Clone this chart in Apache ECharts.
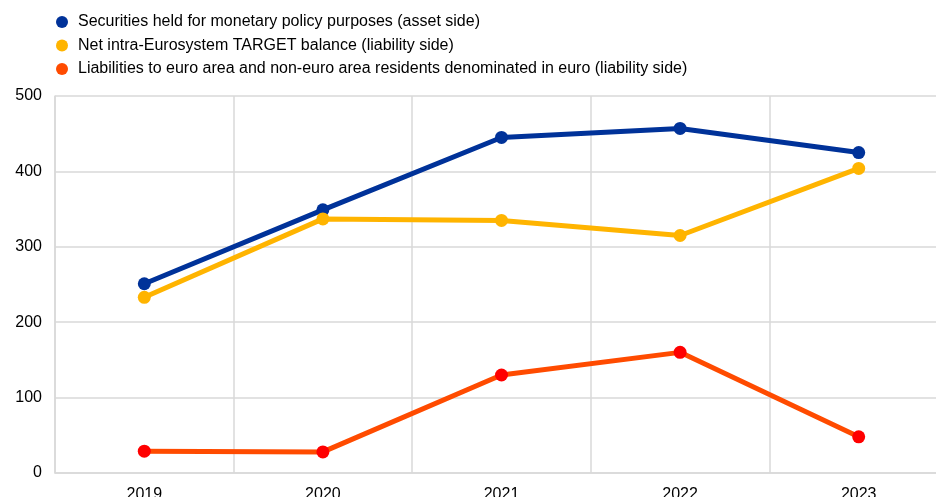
<!DOCTYPE html>
<html><head><meta charset="utf-8">
<script src="https://cdn.jsdelivr.net/npm/echarts@6/dist/echarts.min.js"></script>
<style>html,body{margin:0;padding:0;background:#fff}#c{width:936px;height:497px}</style>
</head><body><div id="c"></div>
<script>
const years = ['2019','2020','2021','2022','2023'];
const securities = [251, 349, 445, 457, 425];
const target = [233, 337, 335, 315, 404];
const liabilities = [29, 28, 130, 160, 48];
const yTicks = [0, 100, 200, 300, 400, 500];
const seriesNames = [
  'Securities held for monetary policy purposes (asset side)',
  'Net intra-Eurosystem TARGET balance (liability side)',
  'Liabilities to euro area and non-euro area residents denominated in euro (liability side)'
];
const chart = echarts.init(document.getElementById('c'));
const font = 'Liberation Sans, Arial, sans-serif';
function s(name, data, color, mcolor){
  return {name, type:'line', data, symbol:'circle', symbolSize:13,
    lineStyle:{color, width:5}, itemStyle:{color:mcolor||color}, color:color, animation:false};
}
chart.setOption({
  animation:false,
  grid:{left:55, right:-12, top:96, bottom:24, containLabel:false, outerBoundsMode:'none'},
  legend:{orient:'vertical', left:51, top:9, itemWidth:22, itemHeight:12, itemGap:7.5,
    icon:'circle', textStyle:{fontFamily:font, fontSize:16, lineHeight:16, color:'#000'},
    data:seriesNames.map((n,i)=>({name:n, itemStyle:{color:['#003299','#ffb400','#ff4b00'][i]}}))},
  xAxis:{type:'category', data:years, boundaryGap:true,
    axisLine:{lineStyle:{color:'#d9d9d9', width:1.5}}, axisTick:{show:false},
    axisLabel:{fontFamily:font, fontSize:16, color:'#000', margin:14},
    splitLine:{show:true, lineStyle:{color:'#d9d9d9', width:1.5}}},
  yAxis:{type:'value', min:0, max:500, interval:100,
    axisLine:{show:true, lineStyle:{color:'#d9d9d9', width:1.5}}, axisTick:{show:false},
    axisLabel:{fontFamily:font, fontSize:16, color:'#000', margin:13,
      formatter:v=>yTicks.includes(v)?String(v):''},
    splitLine:{show:true, lineStyle:{color:'#d9d9d9', width:1.5}}},
  series:[
    s(seriesNames[0], securities, '#003299'),
    s(seriesNames[1], target, '#ffb400'),
    s(seriesNames[2], liabilities, '#ff4b00', '#ff0000')
  ]
});
</script></body></html>
